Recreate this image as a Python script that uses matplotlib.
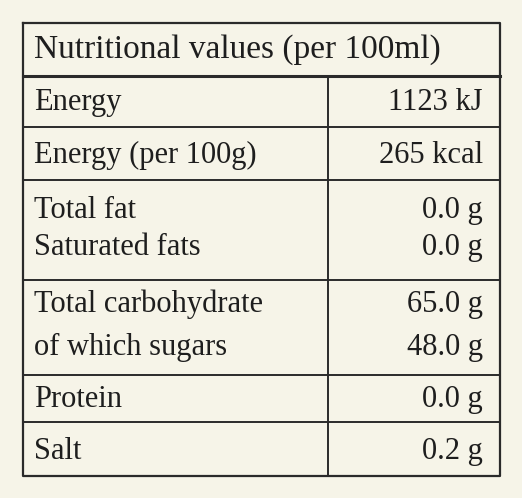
import matplotlib.pyplot as plt

title = "Nutritional values (per 100ml)"
labels = ["Energy", "Energy (per 100g)", "Total fat", "Saturated fats",
          "Total carbohydrate", "of which sugars", "Protein", "Salt"]
values = ["1123 kJ", "265 kcal", "0.0 g", "0.0 g", "65.0 g", "48.0 g", "0.0 g", "0.2 g"]
row_y = [102, 155, 210, 247, 304, 347, 399, 451]
hlines = [127, 180, 280, 375, 422]

bg = "#f6f4e8"
fig = plt.figure(figsize=(5.22, 4.98), dpi=100, facecolor=bg)
ax = fig.add_axes([0, 0, 1, 1])
ax.set_xlim(0, 522); ax.set_ylim(498, 0); ax.axis("off")
ax.set_facecolor(bg)
lc = "#2a2a2a"
L, R, T, B = 23, 500, 23, 476
ax.plot([L, R, R, L, L], [T, T, B, B, T], color=lc, lw=1.6)
ax.plot([L, R], [76, 76], color=lc, lw=2.2)
for y in hlines:
    ax.plot([L, R], [y, y], color=lc, lw=1.4)
ax.plot([328, 328], [76, B], color=lc, lw=1.4)
font = dict(family="Liberation Serif", size=22, color="#1e1e1e")
ax.text(34, 50, title, va="center", ha="left", family="Liberation Serif",
        size=24, color="#1e1e1e")
for lab, val, y in zip(labels, values, row_y):
    ax.text(34, y, lab, va="center", ha="left", **font)
    ax.text(483, y, val, va="center", ha="right", **font)
fig.savefig("out.png", dpi=100, facecolor=bg)
